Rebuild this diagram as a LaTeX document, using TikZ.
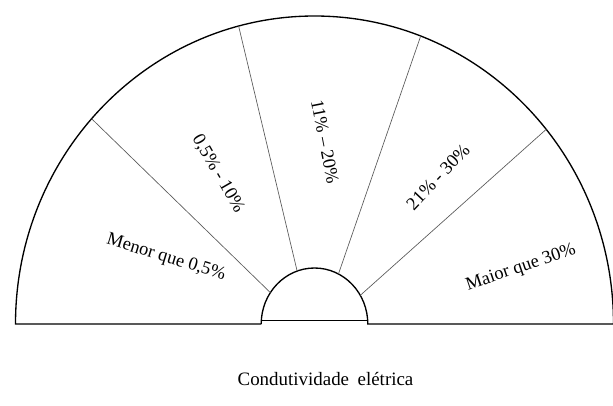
\documentclass[tikz,border=0pt]{standalone}
\usepackage{fontspec}
\setmainfont{Liberation Serif}
\begin{document}
\begin{tikzpicture}[x=0.75pt,y=0.75pt,
  rim/.style={line width=1pt,black},
  divider/.style={line width=0.5pt,black!65},
  lab/.style={font=\fontsize{13.8pt}{16pt}\selectfont,inner sep=0pt},
  captext/.style={font=\fontsize{14.2pt}{16pt}\selectfont,inner sep=0pt,anchor=base}]
\useasboundingbox (0,0) rectangle (613,405);
\coordinate (c) at (314.5,81);
% outer and inner contours
\coordinate (oL) at (15.5,81);
\coordinate (oR) at (613.5,81);
\coordinate (iL) at (261.2,81);
\coordinate (iR) at (367.8,81);
\draw[rim] (iL) -- (oL) arc[start angle=180,end angle=0,x radius=299,y radius=308] -- (iR)
  arc[start angle=0,end angle=180,x radius=53.3,y radius=56];
\coordinate (cL) at (262,84.3);
\coordinate (cR) at (367,84.3);
\draw[rim] (cL) -- (cR);
% dividers
\coordinate (o1) at ([shift={(c)}]138.2:299 and 308);
\coordinate (o2) at ([shift={(c)}]104.7:299 and 308);
\coordinate (o3) at ([shift={(c)}]69.2:299 and 308);
\coordinate (o4) at ([shift={(c)}]39.2:299 and 308);
\coordinate (i1) at ([shift={(c)}]145.9:53.3 and 56);
\coordinate (i2) at ([shift={(c)}]109:53.3 and 56);
\coordinate (i3) at ([shift={(c)}]63.3:53.3 and 56);
\coordinate (i4) at ([shift={(c)}]30.8:53.3 and 56);
\draw[divider] (i1) -- (o1);
\draw[divider] (i2) -- (o2);
\draw[divider] (i3) -- (o3);
\draw[divider] (i4) -- (o4);
% labels
\node[lab,rotate=-17] (l1) at (166,147) {Menor que 0,5\%};
\node[lab,rotate=-60] (l2) at (218,231) {0,5\% - 10\%};
\node[lab,rotate=-79] (l3) at (325,263) {11\% – 20\%};
\node[lab,rotate=46.5] (l4) at (438,228) {21\% - 30\%};
\node[lab,rotate=18.8] (l5) at (521,137) {Maior que 30\%};
\node[captext] (t) at (325.5,20) {Condutividade\hspace{0.45em}elétrica};
\end{tikzpicture}
\end{document}
